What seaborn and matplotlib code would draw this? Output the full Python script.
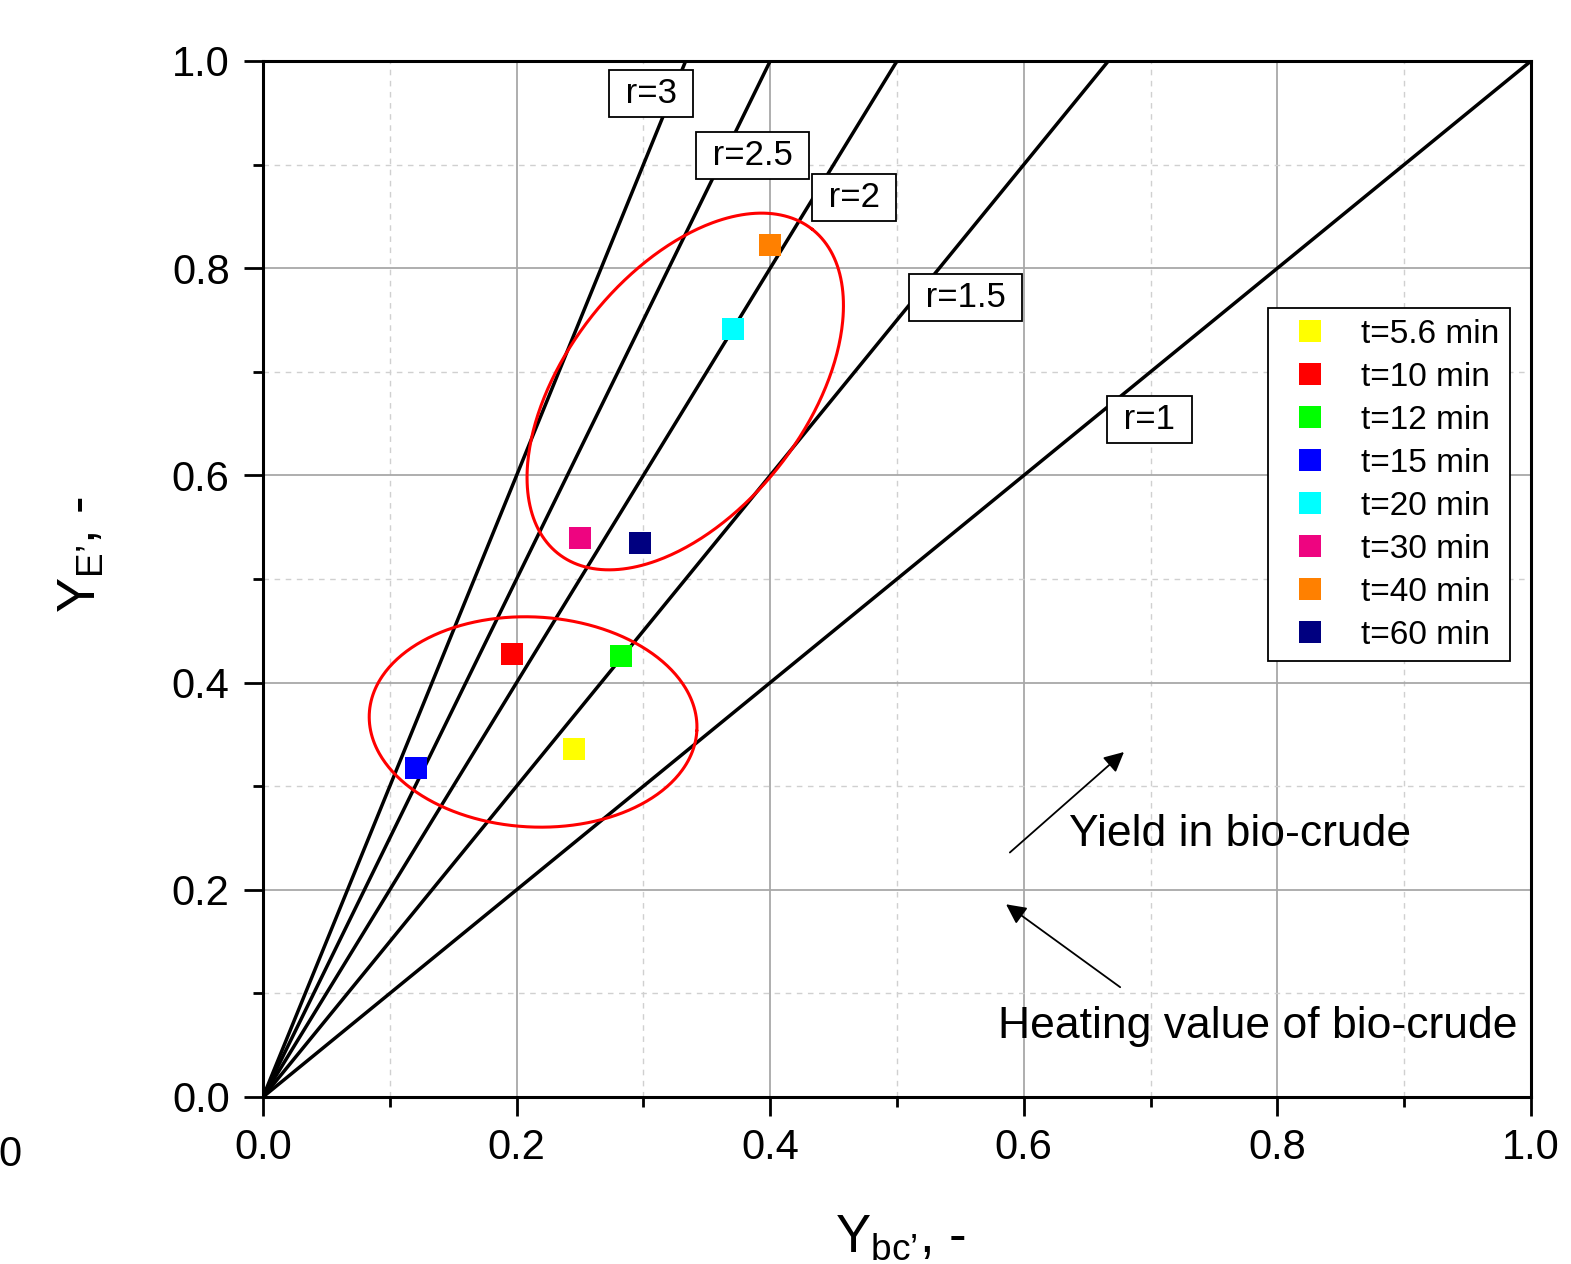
import numpy as np
import pandas as pd
import matplotlib
matplotlib.use("Agg")
import matplotlib.pyplot as plt
import seaborn as sns
from matplotlib.ticker import MultipleLocator

# ---------------- data ----------------
times = ["t=5.6 min", "t=10 min", "t=12 min", "t=15 min",
         "t=20 min", "t=30 min", "t=40 min", "t=60 min"]
y_bc = [0.245, 0.196, 0.282, 0.121, 0.371, 0.250, 0.400, 0.297]
y_e = [0.336, 0.428, 0.426, 0.318, 0.741, 0.540, 0.822, 0.535]
point_colors = ["#FFFF00", "#FF0000", "#00FF00", "#0000FF",
                "#00FFFF", "#EE0480", "#FF8000", "#000080"]

ratios = [1, 1.5, 2, 2.5, 3]
ratio_labels = ["r=1", "r=1.5", "r=2", "r=2.5", "r=3"]
ratio_label_x = [0.699, 0.554, 0.466, 0.386, 0.306]
ratio_label_y = [0.654, 0.772, 0.868, 0.909, 0.969]

x_ticks = [0.0, 0.2, 0.4, 0.6, 0.8, 1.0]
y_ticks = [0.0, 0.2, 0.4, 0.6, 0.8, 1.0]

# ellipses (center in data units, semi-axes in pixels, angle in degrees)
ell_centers = [(0.333, 0.681), (0.213, 0.362)]
ell_axes = [(206, 120), (164, 105)]
ell_angles = [52, -3]

df = pd.DataFrame({"Ybc": y_bc, "YE": y_e, "time": times})

# ---------------- style ----------------
sns.set_style("ticks")
plt.rcParams["font.family"] = ["Liberation Sans", "DejaVu Sans"]
plt.rcParams["mathtext.fontset"] = "custom"
plt.rcParams["mathtext.rm"] = "Liberation Sans"
plt.rcParams["mathtext.it"] = "Liberation Sans:italic"
for key in ["text.color", "axes.labelcolor", "xtick.color", "ytick.color",
            "axes.edgecolor"]:
    plt.rcParams[key] = "black"

W, H = 1571, 1264
fig = plt.figure(figsize=(W / 100, H / 100), dpi=100)
ax = fig.add_axes([263 / W, 1 - 1097 / H, (1531 - 263) / W, (1097 - 61) / H])

# ratio lines
for r in ratios:
    xe = min(1.0, 1.0 / r)
    ax.plot([0, xe], [0, r * xe], color="black", lw=2.5, zorder=2,
            solid_capstyle="butt")

# ellipses
sx = ax.get_position().width * W
sy = ax.get_position().height * H
t = np.linspace(0, 2 * np.pi, 400)
for (cx, cy), (a, b), ang in zip(ell_centers, ell_axes, ell_angles):
    th = np.deg2rad(ang)
    px = a * np.cos(t) * np.cos(th) - b * np.sin(t) * np.sin(th)
    py = a * np.cos(t) * np.sin(th) + b * np.sin(t) * np.cos(th)
    ax.plot(cx + px / sx, cy + py / sy, color="#FF0000", lw=2.2, zorder=3)

# scatter points
sns.scatterplot(data=df, x="Ybc", y="YE", hue="time", hue_order=times,
                palette=point_colors, marker="s", s=250, linewidth=0,
                ax=ax, zorder=5, legend=True)

# ratio labels
for lab, lx, ly in zip(ratio_labels, ratio_label_x, ratio_label_y):
    ax.text(lx, ly, " " + lab + " ", fontsize=25, ha="center", va="center",
            zorder=6,
            bbox=dict(boxstyle="square,pad=0.2", fc="white", ec="black", lw=1.3))

# arrows & annotation text
ax.annotate("", xy=(0.679, 0.333), xytext=(0.589, 0.236),
            arrowprops=dict(arrowstyle="-|>", color="black", lw=1.3,
                            mutation_scale=30, shrinkA=0, shrinkB=0), zorder=6)
ax.annotate("", xy=(0.586, 0.186), xytext=(0.676, 0.106),
            arrowprops=dict(arrowstyle="-|>", color="black", lw=1.3,
                            mutation_scale=30, shrinkA=0, shrinkB=0), zorder=6)
ax.text(0.636, 0.253, "Yield in bio-crude", fontsize=32, ha="left", va="center")
ax.text(0.580, 0.068, "Heating value of bio-crude", fontsize=32, ha="left", va="center")

# axes
ax.set_xlim(0, 1)
ax.set_ylim(0, 1)
ax.set_xticks(x_ticks)
ax.set_yticks(y_ticks)
ax.set_xticklabels([f"{v:.1f}" for v in x_ticks])
ax.set_yticklabels([f"{v:.1f}" for v in y_ticks])
ax.xaxis.set_minor_locator(MultipleLocator(0.1))
ax.yaxis.set_minor_locator(MultipleLocator(0.1))
ax.tick_params(which="major", direction="out", length=14, width=2.0,
               labelsize=30, pad=8, top=False, right=False, colors="black")
ax.tick_params(which="minor", direction="out", length=7, width=2.0,
               top=False, right=False, colors="black")
ax.tick_params(axis="y", which="major", pad=10)
for sp in ax.spines.values():
    sp.set_linewidth(2.2)
    sp.set_color("black")
    sp.set_visible(True)
ax.set_axisbelow(True)
ax.grid(which="major", color="#a8a8a8", lw=1.3, ls="-")
ax.grid(which="minor", color="#d0d0d0", lw=1.0, ls=(0, (4, 4)))
ax.set_xlabel("")
ax.set_ylabel("")

# legend
handles, labels = ax.get_legend_handles_labels()
leg = ax.legend(handles, labels, loc="upper left",
                bbox_to_anchor=((1268 - 263) / 1268, (1097 - 308) / 1036),
                borderaxespad=0, fontsize=24, frameon=True, fancybox=False,
                edgecolor="black", framealpha=1, borderpad=0.32,
                labelspacing=0.36, handlelength=1.9, handletextpad=0.56,
                markerscale=1)
leg.get_frame().set_linewidth(1.3)

# axis titles
fig.text(82 / W, 1 - 555 / H, "$\\mathregular{Y_{E\u2019}}$, -", rotation=90,
         fontsize=38, ha="center", va="center")
fig.text(900 / W, 1 - 1252 / H, "$\\mathregular{Y_{bc\u2019}}$, -",
         fontsize=38, ha="center", va="baseline")
# stray label from neighbouring panel
fig.text(21 / W, 1 - 1155 / H, "0", fontsize=30, ha="right", va="center")

fig.savefig("out.png", dpi=100)
